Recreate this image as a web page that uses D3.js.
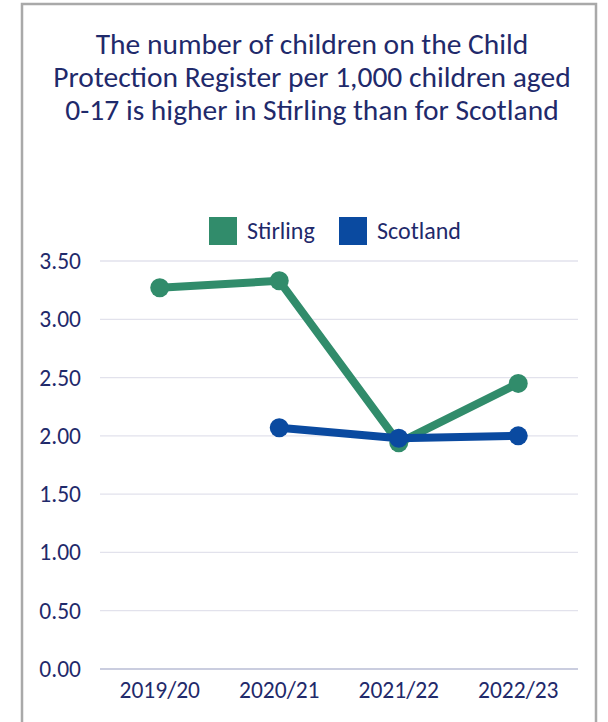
<!DOCTYPE html>
<html>
<head>
<meta charset="utf-8">
<script src="https://cdn.jsdelivr.net/npm/d3@7"></script>
<style>
  body { margin: 0; background: #fff; }
  svg { display: block; font-family: Carlito, Lato, "Open Sans", sans-serif; }
</style>
</head>
<body>
<svg id="chart" width="608" height="722"></svg>
<script>
// Data
const years = ["2019/20", "2020/21", "2021/22", "2022/23"];
const stirling = [3.27, 3.33, 1.94, 2.45];
const scotland = [null, 2.07, 1.98, 2.00];
const yTicks = [0, 0.5, 1, 1.5, 2, 2.5, 3, 3.5];
const titleLines = [
  "The number of children on the Child",
  "Protection Register per 1,000 children aged",
  "0-17 is higher in Stirling than for Scotland"
];

const navy = "#1f2a6b";
const green = "#318c6b";
const blue = "#0a4aa0";

const svg = d3.select("#chart");

// outer frame
svg.append("path")
  .attr("d", "M22,723 V4 H596 V723")
  .attr("fill", "none")
  .attr("stroke", "#a9a9a9")
  .attr("stroke-width", 2.5);

// title
svg.append("g").selectAll("text")
  .data(titleLines)
  .join("text")
  .attr("x", 312)
  .attr("y", (d, i) => 54 + i * 33)
  .attr("text-anchor", "middle")
  .style("font-size", "29.5px")
  .style("fill", navy)
  .text(d => d);

const x = d3.scaleBand().domain(years).range([100, 578]);
const y = d3.scaleLinear().domain([0, 3.5]).range([669, 261]);

// gridlines
svg.append("g")
  .selectAll("line")
  .data(yTicks)
  .join("line")
  .attr("x1", 100)
  .attr("x2", 578)
  .attr("y1", d => y(d))
  .attr("y2", d => y(d))
  .attr("stroke", d => d === 0 ? "#b8bcd4" : "#e2e2ec")
  .attr("stroke-width", 1.3);

// y axis labels
const yAxis = svg.append("g")
  .attr("transform", "translate(90,0)")
  .call(d3.axisLeft(y).tickValues(yTicks).tickFormat(d3.format(".2f")).tickSize(0).tickPadding(9));
yAxis.select(".domain").remove();
yAxis.selectAll("text")
  .style("font-family", "Carlito, Lato, sans-serif")
  .style("font-size", "23.5px")
  .style("fill", navy);

// x axis labels
const xAxis = svg.append("g")
  .attr("transform", "translate(0,669)")
  .call(d3.axisBottom(x).tickSize(0).tickPadding(12));
xAxis.select(".domain").remove();
xAxis.selectAll("text")
  .style("font-family", "Carlito, Lato, sans-serif")
  .style("font-size", "23.5px")
  .style("fill", navy);

const cx = d => x(d) + x.bandwidth() / 2;

const series = [
  { name: "Stirling", values: stirling, color: green },
  { name: "Scotland", values: scotland, color: blue }
];

const line = d3.line()
  .defined(d => d.v != null)
  .x(d => cx(d.year))
  .y(d => y(d.v));

series.forEach(s => {
  const pts = years.map((yr, i) => ({ year: yr, v: s.values[i] }));
  svg.append("path")
    .datum(pts)
    .attr("d", line)
    .attr("fill", "none")
    .attr("stroke", s.color)
    .attr("stroke-width", 8)
    .attr("stroke-linejoin", "round");
  svg.append("g")
    .selectAll("circle")
    .data(pts.filter(d => d.v != null))
    .join("circle")
    .attr("cx", d => cx(d.year))
    .attr("cy", d => y(d.v))
    .attr("r", 9.5)
    .attr("fill", s.color);
});

// legend
const legend = svg.append("g");
const legendX = [209, 339];
series.forEach((s, i) => {
  legend.append("rect")
    .attr("x", legendX[i])
    .attr("y", 217)
    .attr("width", 28)
    .attr("height", 28)
    .attr("fill", s.color);
  legend.append("text")
    .attr("x", legendX[i] + 38)
    .attr("y", 239)
    .style("font-size", "24px")
    .style("fill", navy)
    .text(s.name);
});
</script>
</body>
</html>
